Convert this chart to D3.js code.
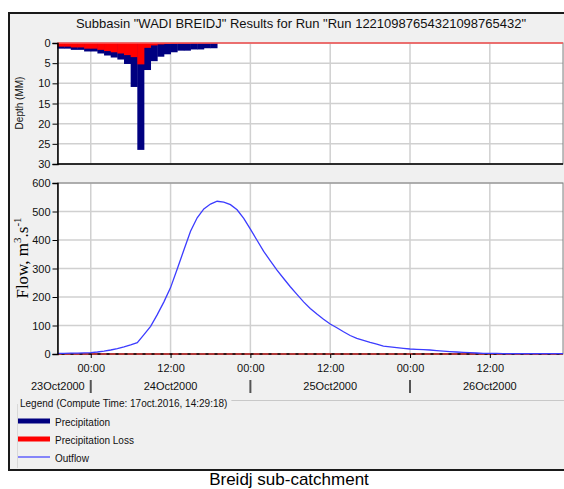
<!DOCTYPE html>
<html><head><meta charset="utf-8">
<script src="https://cdn.jsdelivr.net/npm/d3@7/dist/d3.min.js"></script>
<style>body{margin:0;background:#fff}svg{display:block}text{font-family:"Liberation Sans",Arial,sans-serif}</style>
</head><body><svg id="c" width="564" height="489"></svg>
<script>
// ---- data ----
const startTime = "2000-10-23T19:00:00";
const endTime = "2000-10-26T23:00:00";
const precipitation = [1.4,1.4,1.7,1.7,2.1,2.1,2.6,3.1,3.6,4.1,5.2,10.9,26.5,6.7,4.5,3.4,2.8,2.3,1.9,1.9,1.6,1.6,1.3,1.3];
const precipLoss = [0.9,0.9,1.1,1.1,1.4,1.4,1.7,2.0,2.3,2.6,3.0,3.5,5.3,1.2,0.6,0.35,0.25,0.2,0.15,0.15,0.1,0.1,0.1,0.1];
const outflow = [2,2,3,3,4,5,7,10,14,19,25,32,40,68,97,138,183,233,298,365,431,478,509,526,536,533,524,506,476,438,399,360,327,294,265,236,209,183,160,140,122,105,92,78,65,55,48,41,35,28,25,22,19.5,17.5,16.5,15,14,12,10,8.5,7,6,4.5,3.5,2.5,2,2,1.5,1.5,1,1,1,1,1,1,1,1];
const depthTicks = [0,5,10,15,20,25,30];
const flowTicks = [0,100,200,300,400,500,600];
const dayLabels = ["23Oct2000","24Oct2000","25Oct2000","26Oct2000"];
const legendItems = ["Precipitation","Precipitation Loss","Outflow"];
const titleText = 'Subbasin "WADI BREIDJ" Results for Run "Run 12210987654321098765432"';
const legendTitle = "Legend (Compute Time: 17oct.2016, 14:29:18)";
const caption = "Breidj sub-catchment";

const svg = d3.select("#c");
const t0 = new Date(startTime), t1 = new Date(endTime);
const L = 57.5, R = 563;
const x = d3.scaleTime().domain([t0, t1]).range([L, R]);
const yTop = d3.scaleLinear().domain([0, 30]).range([43, 164]);
const yBot = d3.scaleLinear().domain([0, 600]).range([354, 183]);
const hr = i => d3.timeHour.offset(t0, i);
const gridTimes = d3.timeHour.every(12).range(t0, t1);

// frame
svg.append("rect").attr("x",9).attr("y",13).attr("width",570).attr("height",457)
  .attr("fill","#f0f0f0").attr("stroke","#1a1a1a").attr("stroke-width",2);

svg.append("text").attr("x",301).attr("y",28).attr("text-anchor","middle")
  .attr("font-size",13).attr("fill","#111").text(titleText);

function panel(y, ticks){
  const [y0,y1] = [Math.min(...y.range()), Math.max(...y.range())];
  svg.append("rect").attr("x",L).attr("y",y0).attr("width",R-L).attr("height",y1-y0).attr("fill","#fff");
  const g = svg.append("g");
  g.selectAll("line.h").data(ticks).join("line")
    .attr("x1",L).attr("x2",R).attr("y1",d=>y(d)).attr("y2",d=>y(d))
    .attr("stroke","#d0d0d0").attr("stroke-width",1.5);
  g.selectAll("line.v").data(gridTimes).join("line")
    .attr("x1",d=>x(d)).attr("x2",d=>x(d)).attr("y1",y0).attr("y2",y1)
    .attr("stroke","#d0d0d0").attr("stroke-width",1.5);
  svg.append("rect").attr("x",L).attr("y",y0).attr("width",R-L).attr("height",y1-y0)
    .attr("fill","none").attr("stroke","#808080").attr("stroke-width",1);
}
panel(yTop, depthTicks);
panel(yBot, flowTicks);

// bars
const bw = x(hr(1)) - x(hr(0));
svg.append("g").selectAll("rect").data(precipitation).join("rect")
  .attr("x",(d,i)=>x(hr(i))).attr("width",bw+0.4)
  .attr("y",yTop(0)).attr("height",d=>yTop(d)-yTop(0)).attr("fill","#000080");
svg.append("g").selectAll("rect").data(precipLoss).join("rect")
  .attr("x",(d,i)=>x(hr(i))).attr("width",bw+0.4)
  .attr("y",yTop(0)).attr("height",d=>yTop(d)-yTop(0)).attr("fill","#ff0000");
svg.append("line").attr("x1",L).attr("x2",R).attr("y1",yTop(0)).attr("y2",yTop(0))
  .attr("stroke","#ff5a5a").attr("stroke-width",1.5);

// bottom baseline
svg.append("line").attr("x1",L).attr("x2",R).attr("y1",yBot(0)).attr("y2",yBot(0))
  .attr("stroke","#b01010").attr("stroke-width",1.5);
svg.append("line").attr("x1",L+4).attr("x2",R).attr("y1",yBot(0)).attr("y2",yBot(0))
  .attr("stroke","#111").attr("stroke-width",1.5).attr("stroke-dasharray","3,6");

// outflow
svg.append("path").datum(outflow)
  .attr("d", d3.line().x((d,i)=>x(hr(i))).y(d=>yBot(d)))
  .attr("fill","none").attr("stroke","#3c3cff").attr("stroke-width",1.3);

// axes
function yAxis(y, ticks){
  const g = svg.append("g").attr("transform",`translate(${L},0)`)
    .call(d3.axisLeft(y).tickValues(ticks).tickSize(5).tickPadding(2).tickFormat(d3.format("d")));
  g.select(".domain").attr("stroke","#000").attr("stroke-width",1.5);
  g.selectAll(".tick line").attr("stroke","#000");
  g.selectAll("text").attr("font-size",11).attr("fill","#111").attr("font-family","Liberation Sans, Arial");
}
yAxis(yTop, depthTicks);
yAxis(yBot, flowTicks);
svg.append("line").attr("x1",L).attr("x2",R).attr("y1",164).attr("y2",164).attr("stroke","#000").attr("stroke-width",1.5);

const xa = svg.append("g").attr("transform",`translate(0,${yBot(0)})`)
  .call(d3.axisBottom(x).tickValues(gridTimes).tickSize(4).tickPadding(6).tickFormat(d3.timeFormat("%H:%M")));
xa.select(".domain").remove();
xa.selectAll(".tick line").attr("stroke","#000");
xa.selectAll("text").attr("font-size",11).attr("fill","#111").attr("font-family","Liberation Sans, Arial");

// day labels and dividers
const days = d3.timeDay.range(d3.timeDay.floor(t0), t1);
const dividers = days.slice(1);
svg.append("g").selectAll("line").data(dividers).join("line")
  .attr("x1",d=>x(d)).attr("x2",d=>x(d)).attr("y1",380).attr("y2",393)
  .attr("stroke","#555").attr("stroke-width",2);
svg.append("g").selectAll("text").data(days).join("text")
  .attr("x",(d,i)=> i===0 ? x(dividers[0])-6 : x(d3.timeHour.offset(d,12)))
  .attr("text-anchor",(d,i)=> i===0 ? "end" : "middle")
  .attr("y",390).attr("font-size",11).attr("fill","#111")
  .text((d,i)=>dayLabels[i]);

// y titles
svg.append("text").attr("transform","translate(23,103) rotate(-90)").attr("text-anchor","middle")
  .attr("font-size",10).attr("fill","#111").text("Depth (MM)");
const ft = svg.append("text").attr("transform","translate(28,258) rotate(-90)").attr("text-anchor","middle")
  .attr("font-size",17).attr("fill","#000").style("font-family","Liberation Serif, Times New Roman, serif");
ft.append("tspan").text("Flow, m");
ft.append("tspan").attr("dy",-7).attr("font-size",11).text("3");
ft.append("tspan").attr("dy",7).text(".s");
ft.append("tspan").attr("dy",-7).attr("font-size",11).text("-1");

// legend
const lt = svg.append("text").attr("x",20).attr("y",407).attr("font-size",10).attr("fill","#111").text(legendTitle);
const ltw = lt.node().getComputedTextLength();
svg.append("line").attr("x1",24+ltw).attr("x2",564).attr("y1",400.5).attr("y2",400.5).attr("stroke","#c8c8c8");
svg.append("line").attr("x1",17.5).attr("x2",17.5).attr("y1",404).attr("y2",468).attr("stroke","#d8d8d8");
const lg = svg.append("g").selectAll("g").data(legendItems).join("g")
  .attr("transform",(d,i)=>`translate(0,${422+i*18})`);
lg.append("line").attr("x1",18).attr("x2",50).attr("y1",-1).attr("y2",-1)
  .attr("stroke",(d,i)=>["#000080","#ff0000","#3c3cff"][i])
  .attr("stroke-width",(d,i)=>i===2?1.2:5);
lg.append("text").attr("x",55).attr("y",4).attr("font-size",10).attr("fill","#111").text(d=>d);

svg.append("text").attr("x",289).attr("y",485).attr("text-anchor","middle")
  .attr("font-size",17).attr("fill","#000").text(caption);
</script></body></html>
